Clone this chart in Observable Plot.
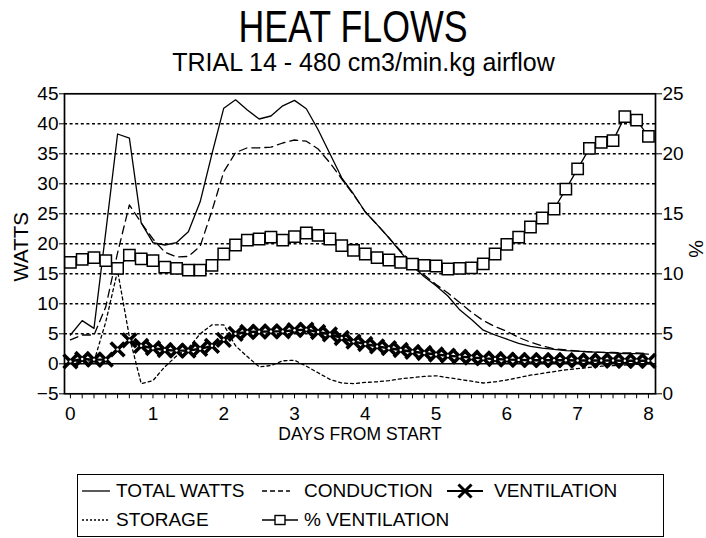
<!DOCTYPE html>
<html><head><meta charset="utf-8">
<script src="https://cdn.jsdelivr.net/npm/d3@7"></script>
<script src="https://cdn.jsdelivr.net/npm/@observablehq/plot@0.6"></script>
<style>
html,body{margin:0;padding:0;background:#fff;}
body{width:706px;height:538px;position:relative;overflow:hidden;font-family:"Liberation Sans",Arial,Helvetica,sans-serif;color:#000;}
.t{position:absolute;white-space:nowrap;line-height:0.9;}
#title{top:7.4px;left:352.5px;font-size:44.7px;transform:translateX(-50%) scaleX(0.8);}
#subtitle{top:50.8px;left:363.5px;font-size:25px;transform:translateX(-50%);}
#chart{position:absolute;left:0;top:80px;}
#legend{position:absolute;left:77px;top:474px;width:587px;height:63px;border:1.5px solid #000;box-sizing:border-box;}
.lg{position:absolute;font-size:19px;line-height:1;white-space:nowrap;}
.sw{position:absolute;}
</style>
</head><body>
<div id="title" class="t">HEAT FLOWS</div>
<div id="subtitle" class="t">TRIAL 14 - 480 cm3/min.kg airflow</div>
<div id="chart"></div>
<div id="legend"></div>
<script>
// ---- data: one value per 4-hour sample (index 0..49) ----
const totalWatts = [4.8, 7.2, 5.9, 22, 38.3, 37.6, 23.5, 20.2, 19.8, 20.2, 22, 27, 35, 42.6, 44, 42.3, 40.8, 41.3, 43, 43.9, 42.5, 39, 35, 31, 28.3, 25.3, 23.2, 21, 18.6, 16.3, 14.5, 13.0, 11.3, 9.0, 7.4, 5.6, 4.8, 4.1, 3.4, 2.9, 2.6, 2.4, 2.2, 2.1, 2.0, 1.9, 1.8, 1.7, 1.7, 1.6];
const conduction = [4.0, 4.8, 4.8, 9.5, 18.5, 26.5, 23.5, 20.8, 18.6, 17.8, 17.9, 19.6, 25.5, 32, 35.2, 36, 36, 36.1, 36.8, 37.3, 37.1, 35.8, 33.5, 30.8, 28.2, 25.3, 23.2, 21.0, 18.8, 16.6, 14.8, 13.2, 11.8, 10.2, 8.6, 7.2, 6.2, 5.4, 4.4, 3.6, 3.0, 2.5, 2.3, 2.1, 2.0, 1.9, 1.9, 1.8, 1.8, 1.7];
const ventilation = [0.4, 0.8, 0.7, 0.7, 2.4, 3.9, 3.0, 2.6, 2.3, 2.2, 2.2, 2.5, 3.0, 4.0, 5.0, 5.3, 5.35, 5.4, 5.4, 5.6, 5.7, 5.3, 4.9, 4.3, 3.7, 3.3, 2.9, 2.6, 2.3, 2.0, 1.8, 1.55, 1.35, 1.2, 1.05, 0.9, 0.8, 0.7, 0.65, 0.6, 0.6, 0.6, 0.6, 0.55, 0.55, 0.55, 0.55, 0.5, 0.5, 0.5];
const storage = [0.3, 0.6, 0.4, 7, 15.5, 4.5, -3.3, -2.8, -0.5, 1.3, 2.6, 5.0, 6.5, 6.5, 3.0, 1.2, -0.5, -0.3, 0.5, 0.6, -0.4, -1.5, -2.6, -3.2, -3.3, -3.1, -3.0, -2.8, -2.5, -2.3, -2.1, -2.0, -2.3, -2.6, -2.9, -3.2, -3.0, -2.7, -2.3, -1.9, -1.6, -1.3, -1.0, -0.8, -0.6, -0.4, -0.3, -0.2, -0.1, 0];
const pctVentilation = [10.95, 11.2, 11.35, 11.1, 10.45, 11.55, 11.25, 11.1, 10.55, 10.45, 10.3, 10.3, 10.7, 11.65, 12.4, 12.8, 12.9, 13.05, 12.8, 13.1, 13.4, 13.2, 12.9, 12.35, 11.95, 11.65, 11.35, 11.15, 10.95, 10.8, 10.7, 10.65, 10.4, 10.45, 10.5, 10.83, 11.65, 12.45, 13.05, 13.9, 14.65, 15.4, 17.05, 18.75, 20.45, 20.95, 21.1, 23.1, 22.8, 21.45];

// ---- axes ----
const wattTicks = [-5, 0, 5, 10, 15, 20, 25, 30, 35, 40, 45];
const gridLevels = [5, 10, 15, 20, 25, 30, 35, 40];
const pctTicks = [0, 5, 10, 15, 20, 25];
const dayLabels = ["0", "1", "2", "3", "4", "5", "6", "7", "8"];
const dayLabelSample = [0, 7, 13, 19, 25, 31, 37, 43, 49];
const sampleTicks = d3.range(totalWatts.length);

// right axis (%) mapped onto the watts axis: 0% = -5 W, 25% = 45 W
const pctToW = d3.scaleLinear([0, 25], [-5, 45]);
const sampleIndex = (d, i) => i;

const chart = Plot.plot({
  width: 706, height: 370,
  marginLeft: 64, marginRight: 51, marginTop: 13.3, marginBottom: 56.7,
  x: {domain: [-0.5, 49.6], axis: null},
  y: {domain: [-5, 45], axis: null},
  style: {fontFamily: "Liberation Sans, Arial, sans-serif", fontSize: "19px", color: "black", background: "white", overflow: "visible"},
  marks: [
    Plot.gridY(gridLevels, {stroke: "black", strokeOpacity: 1, strokeWidth: 1.4, strokeDasharray: "3,2.6"}),
    Plot.ruleY([0], {stroke: "black", strokeWidth: 1.5}),
    Plot.frame({stroke: "black", strokeWidth: 1.7}),
    Plot.axisY(wattTicks, {anchor: "left", tickSize: 5, tickPadding: 1, fontSize: 19, label: null}),
    Plot.axisY(pctTicks, {y: pctToW, anchor: "right", tickSize: 6, tickPadding: 1, fontSize: 19, label: null}),
    Plot.axisX(sampleTicks, {anchor: "bottom", tickSize: 5, tickFormat: () => "", label: null}),
    Plot.axisX(dayLabelSample, {anchor: "bottom", tickSize: 0, tickPadding: 13, fontSize: 19, label: null,
      tickFormat: d => dayLabels[dayLabelSample.indexOf(d)]}),
    Plot.text(["WATTS"], {frameAnchor: "left", rotate: -90, dx: -43, dy: 3, fontSize: 20.5, textAnchor: "middle", lineAnchor: "middle"}),
    Plot.text(["%"], {frameAnchor: "right", rotate: 90, dx: 40, dy: 5, fontSize: 20, textAnchor: "middle", lineAnchor: "middle"}),
    Plot.text(["DAYS FROM START"], {frameAnchor: "bottom", dy: 41, fontSize: 17.5, textAnchor: "middle", lineAnchor: "middle"}),
    // series
    Plot.lineY(storage, {stroke: "black", strokeWidth: 1.3, strokeDasharray: "3,3"}),
    Plot.lineY(conduction, {stroke: "black", strokeWidth: 1.3, strokeDasharray: "8,5"}),
    Plot.lineY(totalWatts, {stroke: "black", strokeWidth: 1.3}),
    Plot.lineY(ventilation, {stroke: "black", strokeWidth: 2.4}),
    Plot.dot(ventilation, {x: sampleIndex, y: d => d, symbol: "times", r: 6.3, stroke: "black", strokeWidth: 3.6}),
    Plot.dot(ventilation, {x: sampleIndex, y: d => d, r: 1.2, fill: "white", stroke: null}),
    Plot.lineY(pctVentilation, {y: pctToW, stroke: "black", strokeWidth: 1.3}),
    Plot.dot(pctVentilation, {x: sampleIndex, y: pctToW, symbol: "square", r: 6.4, fill: "white", stroke: "black", strokeWidth: 1.5})
  ]
});
document.getElementById("chart").appendChild(chart);

// ---- legend ----
const legendItems = [
  {label: "TOTAL WATTS", kind: "solid", sx: 82, tx: 116, row: 0},
  {label: "CONDUCTION", kind: "dashed", sx: 262, tx: 304, row: 0},
  {label: "VENTILATION", kind: "times", sx: 447, tx: 494, row: 0},
  {label: "STORAGE", kind: "dotted", sx: 82, tx: 116, row: 1},
  {label: "% VENTILATION", kind: "square", sx: 262, tx: 304, row: 1}
];
const rowTop = [481, 510];
const rowMid = [490.5, 519.5];
for (const it of legendItems) {
  const t = document.createElement("div");
  t.className = "lg";
  t.textContent = it.label;
  t.style.left = it.tx + "px";
  t.style.top = rowTop[it.row] + "px";
  document.body.appendChild(t);
  const w = it.kind === "times" || it.kind === "square" ? 36 : 28;
  const s = d3.create("svg").attr("class", "sw").attr("width", w).attr("height", 16)
    .style("left", it.sx + "px").style("top", (rowMid[it.row] - 8) + "px");
  const line = s.append("line").attr("x1", 0).attr("x2", w).attr("y1", 8).attr("y2", 8).attr("stroke", "black").attr("stroke-width", 1.3);
  if (it.kind === "dashed") line.attr("stroke-dasharray", "5,3");
  if (it.kind === "dotted") line.attr("stroke-dasharray", "2,2");
  if (it.kind === "times") {
    line.attr("stroke-width", 2);
    s.append("path").attr("d", d3.symbol(d3.symbolTimes, Math.PI * 36)()).attr("transform", "translate(18,8)")
      .attr("stroke", "black").attr("stroke-width", 3).attr("fill", "none");
  }
  if (it.kind === "square") {
    s.append("rect").attr("x", 13).attr("y", 3.5).attr("width", 10).attr("height", 9)
      .attr("fill", "white").attr("stroke", "black").attr("stroke-width", 1.4);
  }
  document.body.appendChild(s.node());
}
</script>
</body></html>
